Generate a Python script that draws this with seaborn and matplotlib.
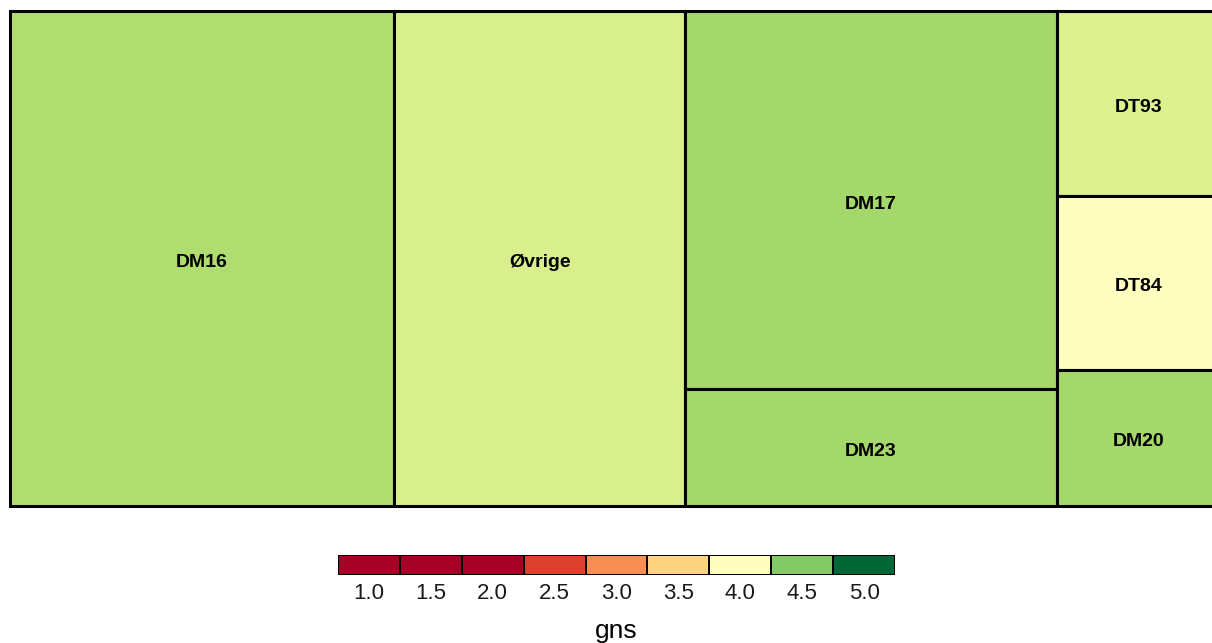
import numpy as np
import matplotlib
matplotlib.use("Agg")
import matplotlib.pyplot as plt
from matplotlib.patches import Rectangle
from matplotlib.colors import LinearSegmentedColormap, TwoSlopeNorm, ListedColormap
from matplotlib.transforms import offset_copy
import seaborn as sns

# ---------------- data ----------------
labels = ["DM16", "Øvrige", "DM17", "DM23", "DT93", "DT84", "DM20"]
sizes = [190.1, 144.0, 140.6, 43.5, 30.3, 28.5, 22.3]
gns = [4.36, 4.20, 4.40, 4.40, 4.18, 4.00, 4.40]
column = [0, 1, 2, 2, 3, 3, 3]          # treemap column grouping
legend_values = [1.0, 1.5, 2.0, 2.5, 3.0, 3.5, 4.0, 4.5, 5.0]
legend_title = "gns"

# ---------------- style ----------------
sns.set_style("white")
plt.rcParams["font.family"] = ["Liberation Sans", "DejaVu Sans"]

brewer = ["#a50026", "#d73027", "#f46d43", "#fdae61", "#fee08b", "#ffffbf",
          "#d9ef8b", "#a6d96a", "#66bd63", "#1a9850", "#006837"]
cmap = LinearSegmentedColormap.from_list("RdYlGn11", brewer)
norm = TwoSlopeNorm(vmin=2.0, vcenter=4.0, vmax=5.0)

def colour(v):
    return cmap(float(np.clip(norm(v), 0, 1)))

W, H = 1212, 643
fig = plt.figure(figsize=(W / 100, H / 100), dpi=100)

# ---------------- treemap ----------------
ax = fig.add_axes([10 / W, (H - 506) / H, 1211 / W, 495 / H])
ax.set_xlim(0, 1)
ax.set_ylim(0, 1)
ax.axis("off")
text_tr = offset_copy(ax.transData, fig=fig, x=0, y=-2, units="dots")

total = float(sum(sizes))
ncol = max(column) + 1
col_sums = [sum(s for s, c in zip(sizes, column) if c == k) for k in range(ncol)]
x0 = 0.0
for k in range(ncol):
    cw = col_sums[k] / total
    ytop = 1.0
    for lab, s, g, c in zip(labels, sizes, gns, column):
        if c != k:
            continue
        h = s / col_sums[k]
        ax.add_patch(Rectangle((x0, ytop - h), cw, h, facecolor=colour(g),
                               edgecolor="black", linewidth=2.2, clip_on=False))
        ax.text(x0 + cw / 2, ytop - h / 2, lab, ha="center", va="center_baseline",
                fontsize=14, fontweight="bold", color="black", transform=text_tr)
        ytop -= h
    x0 += cw

# ---------------- legend (binned colour bar) ----------------
lax = fig.add_axes([338 / W, (H - 575) / H, 557 / W, 20 / H])
leg_cols = [colour(v) for v in legend_values]
sns.heatmap(np.arange(len(legend_values))[None, :], ax=lax,
            cmap=ListedColormap(leg_cols), vmin=-0.5, vmax=len(legend_values) - 0.5,
            cbar=False, linewidths=1.2, linecolor="black",
            xticklabels=[f"{v:.1f}" for v in legend_values], yticklabels=False)
lax.tick_params(axis="x", length=0, pad=5.5, labelsize=16, labelcolor="#1a1a1a",
                rotation=0)
lax.set_xlabel(legend_title, fontsize=19, color="black", labelpad=11)
lax.set_ylabel("")

fig.savefig("out.png", dpi=100)
